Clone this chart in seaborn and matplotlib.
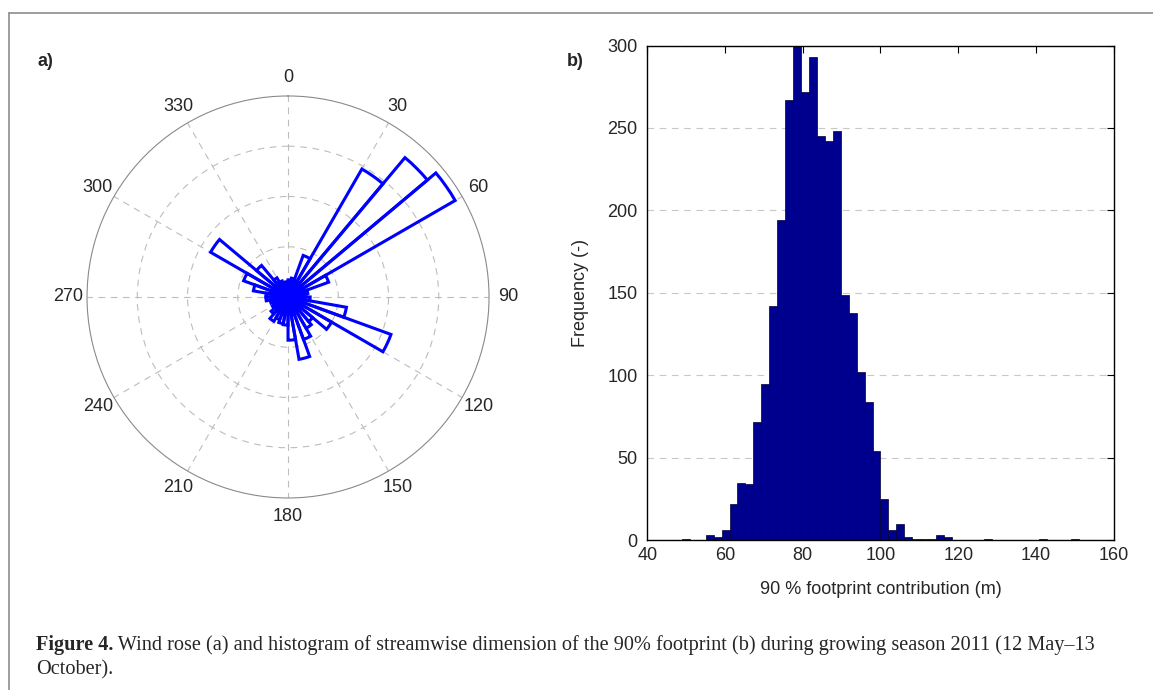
import numpy as np
import pandas as pd
import seaborn as sns
import matplotlib.pyplot as plt
from matplotlib.lines import Line2D

# wind rose: 10 degree sectors starting at north, counts per sector
sector_deg = list(range(0, 360, 10))
sector_counts = [34, 38, 88, 294, 362, 384, 86, 40, 36, 44, 118, 218,
                 100, 64, 72, 90, 126, 86, 56, 54, 48, 56, 44, 36,
                 32, 36, 44, 44, 70, 94, 178, 82, 44, 34, 30, 30]

# histogram of 90 % footprint contribution (m), 50 bins between min and max
fp_min, fp_max = 48.9, 151.1
fp_counts = [1, 0, 0, 3, 2, 6, 22, 35, 34, 72, 95, 142, 194, 267, 300, 272,
             293, 245, 242, 248, 149, 138, 102, 84, 54, 25, 6, 10, 2, 1, 1, 1,
             3, 2, 0, 0, 0, 0, 1, 0, 0, 0, 0, 0, 0, 1, 0, 0, 0, 1]

theta_labels = ['0', '30', '60', '90', '120', '150', '180', '210', '240', '270', '300', '330']
caption_bold = 'Figure 4.'
caption_rest = (' Wind rose (a) and histogram of streamwise dimension of the 90% footprint '
                '(b) during growing season 2011 (12 May\u201313')
caption_line2 = 'October).'

sns.set_style("white")
plt.rcParams['font.family'] = ['Liberation Sans', 'DejaVu Sans']
plt.rcParams['font.size'] = 13

fig = plt.figure(figsize=(11.53, 6.9), dpi=100)

# ---- a) wind rose
ax1 = fig.add_axes([0.07546, 0.2783, 0.3487, 0.5826], projection='polar')
ax1.set_theta_zero_location('N')
ax1.set_theta_direction(-1)
ax1.bar(np.deg2rad(sector_deg), sector_counts, width=np.deg2rad(10), align='edge',
        fill=False, edgecolor='#0000ff', linewidth=2.2, zorder=3)
ax1.set_ylim(0, 400)
ax1.set_yticks([100, 200, 300])
ax1.set_yticklabels([])
ax1.set_xticks(np.deg2rad(np.arange(0, 360, 30)))
ax1.set_xticklabels(theta_labels)
ax1.tick_params(axis='x', pad=3, labelsize=13)
ax1.grid(True, color='#bdbdbd', linestyle=(0, (6, 5)), linewidth=0.8)
ax1.spines['polar'].set_color('#8a8a8a')
ax1.spines['polar'].set_linewidth(0.8)

# ---- b) histogram
ax2 = fig.add_axes([0.5614, 0.2170, 0.4045, 0.7170])
nbins = len(fp_counts)
step = (fp_max - fp_min) / nbins
hist_df = pd.DataFrame({'fp': fp_min + step * (np.arange(nbins) + 0.5), 'n': fp_counts})
sns.histplot(data=hist_df, x='fp', weights='n', bins=nbins, binrange=(fp_min, fp_max),
             color='#00008f', edgecolor='#000030', linewidth=0.5, alpha=1, ax=ax2)
ax2.set_xlim(40, 160)
ax2.set_ylim(0, 300)
ax2.set_xticks(range(40, 161, 20))
ax2.set_yticks(range(0, 301, 50))
ax2.yaxis.grid(True, color='#c8c8c8', linestyle=(0, (6, 5)), linewidth=0.8)
ax2.set_axisbelow(True)
ax2.tick_params(direction='in', length=5, width=0.8, top=True, right=True,
                labelsize=13, color='black')
ax2.tick_params(axis='y', pad=7)
ax2.tick_params(axis='x', pad=5)
for s in ax2.spines.values():
    s.set_visible(True)
    s.set_color('black')
    s.set_linewidth(1)
ax2.set_xlabel('90 % footprint contribution (m)', fontsize=13, labelpad=12)
ax2.set_ylabel('Frequency (-)', fontsize=13, labelpad=13)

# panel letters
fig.text(37 / 1153, 1 - 62 / 690, 'a)', fontsize=13, fontweight='bold', va='center')
fig.text(567 / 1153, 1 - 62 / 690, 'b)', fontsize=13, fontweight='bold', va='center')

# frame lines of the figure panel
fig.add_artist(Line2D([9 / 1153, 1], [1 - 13 / 690, 1 - 13 / 690], color='#8c8c8c', linewidth=1.2))
fig.add_artist(Line2D([9 / 1153, 9 / 1153], [0, 1 - 13 / 690], color='#8c8c8c', linewidth=1.2))

# caption
serif = ['Liberation Serif', 'DejaVu Serif']
t1 = fig.text(36 / 1153, 1 - 650 / 690, caption_bold, family=serif, fontsize=14.6,
              fontweight='bold', va='baseline')
fig.canvas.draw()
bb = t1.get_window_extent()
fig.text(bb.x1 / fig.bbox.width, 1 - 650 / 690, caption_rest, family=serif, fontsize=14.6,
         va='baseline')
fig.text(36 / 1153, 1 - 674 / 690, caption_line2, family=serif, fontsize=14.6, va='baseline')

fig.savefig('out.png', dpi=100, facecolor='white')
